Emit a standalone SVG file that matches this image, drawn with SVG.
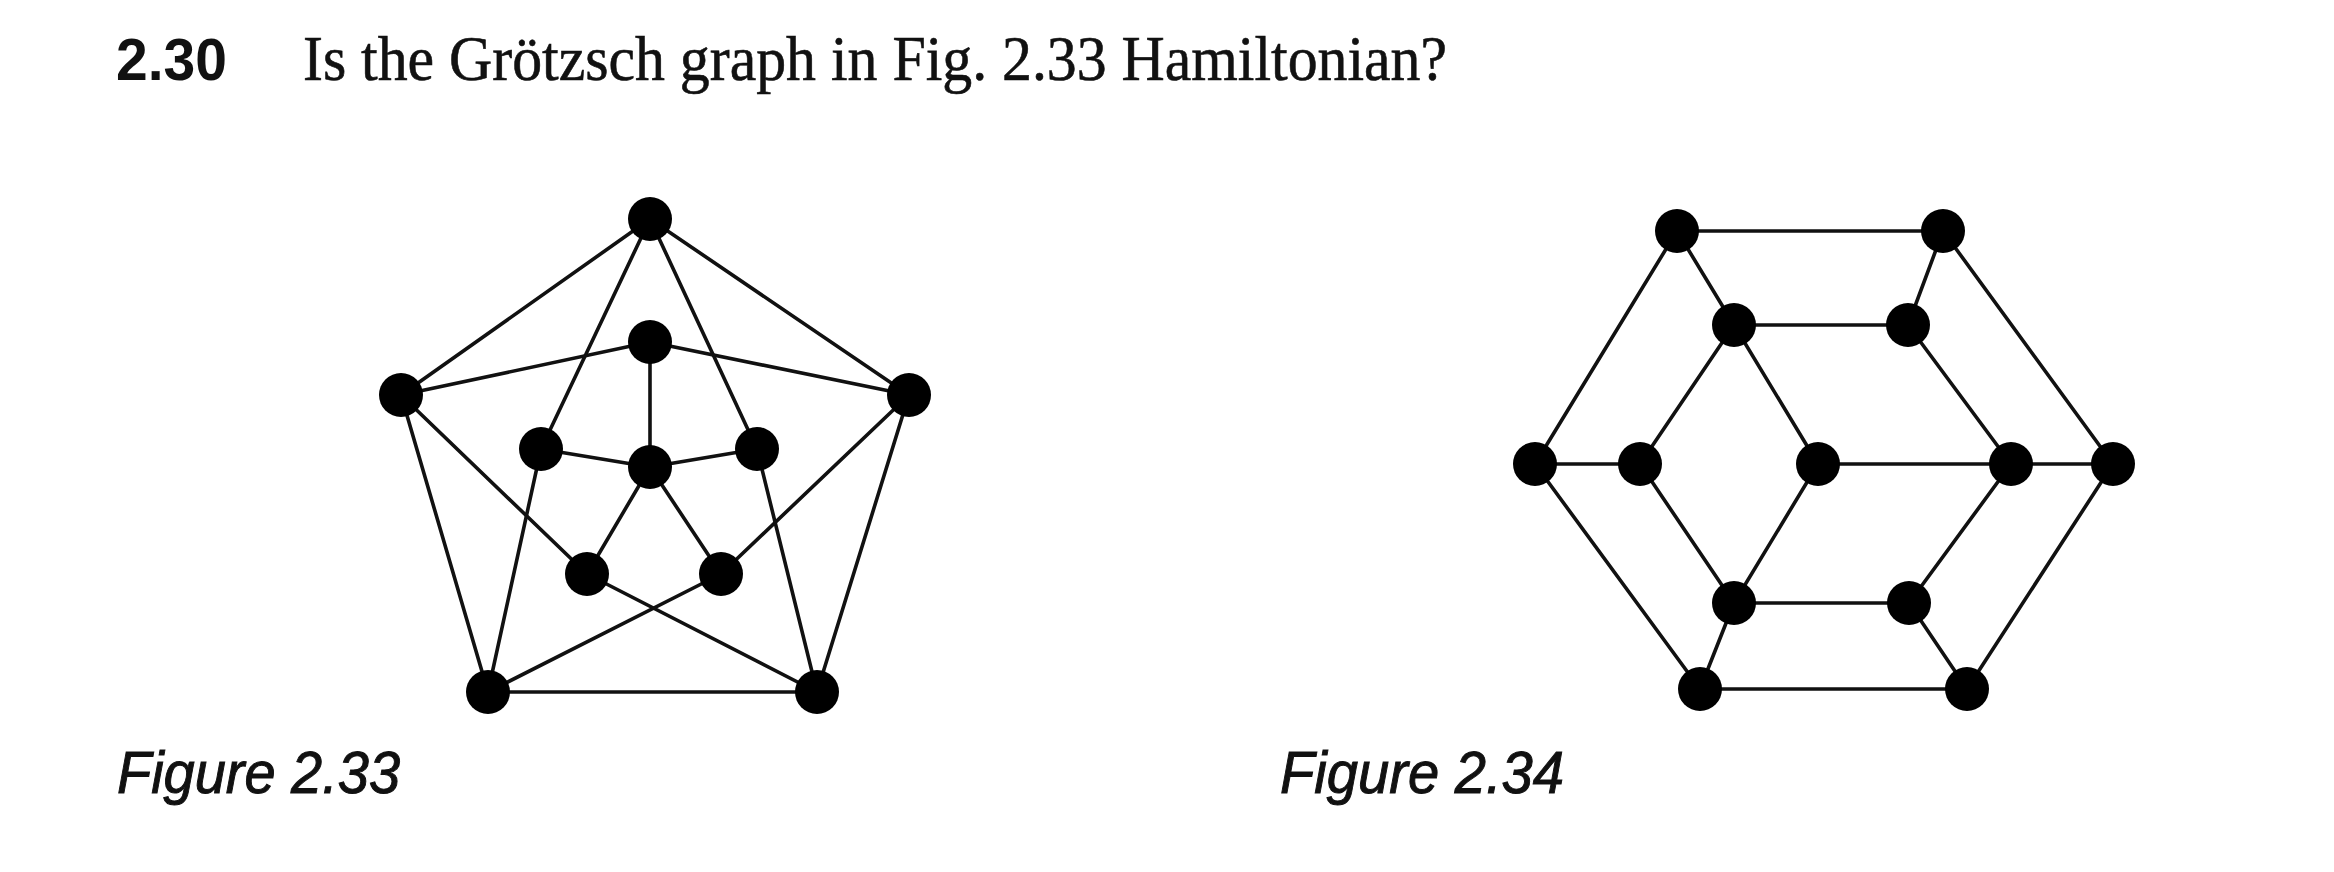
<svg xmlns="http://www.w3.org/2000/svg" width="2334" height="872" viewBox="0 0 2334 872">
<style>
.e{stroke:#111;stroke-width:3.6;fill:none;stroke-linecap:round}
.n{fill:#000}
.num{font-family:"Liberation Sans",Arial,sans-serif;font-weight:bold;font-size:60px;fill:#111}
.q{font-family:"Liberation Serif","Times New Roman",serif;font-size:64px;fill:#111;stroke:#111;stroke-width:0.6}
.cap{font-family:"Liberation Sans",Arial,sans-serif;font-style:italic;font-size:60px;fill:#111;stroke:#111;stroke-width:1}
</style>
<rect width="2334" height="872" fill="#fff"/>
<g id="title">
<text class="num" x="116" y="80" textLength="111" lengthAdjust="spacingAndGlyphs">2.30</text>
<text class="q" x="303" y="80" textLength="1144" lengthAdjust="spacingAndGlyphs">Is the Grötzsch graph in Fig. 2.33 Hamiltonian?</text>
</g>
<g id="fig233-edges" class="e">
<line x1="650" y1="219" x2="401" y2="395"/>
<line x1="650" y1="219" x2="909" y2="395"/>
<line x1="650" y1="219" x2="541" y2="449"/>
<line x1="650" y1="219" x2="757" y2="449"/>
<line x1="401" y1="395" x2="650" y2="342"/>
<line x1="909" y1="395" x2="650" y2="342"/>
<line x1="401" y1="395" x2="488" y2="692"/>
<line x1="909" y1="395" x2="817" y2="692"/>
<line x1="401" y1="395" x2="587" y2="574"/>
<line x1="909" y1="395" x2="721" y2="574"/>
<line x1="488" y1="692" x2="817" y2="692"/>
<line x1="488" y1="692" x2="541" y2="449"/>
<line x1="817" y1="692" x2="757" y2="449"/>
<line x1="488" y1="692" x2="721" y2="574"/>
<line x1="817" y1="692" x2="587" y2="574"/>
<line x1="650" y1="467" x2="650" y2="342"/>
<line x1="650" y1="467" x2="541" y2="449"/>
<line x1="650" y1="467" x2="757" y2="449"/>
<line x1="650" y1="467" x2="587" y2="574"/>
<line x1="650" y1="467" x2="721" y2="574"/>
</g>
<g id="fig233-nodes" class="n">
<circle id="g-t" cx="650" cy="219" r="22"/>
<circle id="g-it" cx="650" cy="342" r="22"/>
<circle id="g-l" cx="401" cy="395" r="22"/>
<circle id="g-r" cx="909" cy="395" r="22"/>
<circle id="g-il" cx="541" cy="449" r="22"/>
<circle id="g-c" cx="650" cy="467" r="22"/>
<circle id="g-ir" cx="757" cy="449" r="22"/>
<circle id="g-lil" cx="587" cy="574" r="22"/>
<circle id="g-lir" cx="721" cy="574" r="22"/>
<circle id="g-bl" cx="488" cy="692" r="22"/>
<circle id="g-br" cx="817" cy="692" r="22"/>
</g>
<g id="fig234-edges" class="e">
<line x1="1677" y1="231" x2="1943" y2="231"/>
<line x1="1677" y1="231" x2="1535" y2="464"/>
<line x1="1677" y1="231" x2="1734" y2="325"/>
<line x1="1943" y1="231" x2="1908" y2="325"/>
<line x1="1943" y1="231" x2="2113" y2="464"/>
<line x1="1734" y1="325" x2="1908" y2="325"/>
<line x1="1734" y1="325" x2="1640" y2="464"/>
<line x1="1734" y1="325" x2="1818" y2="464"/>
<line x1="1908" y1="325" x2="2011" y2="464"/>
<line x1="1535" y1="464" x2="1640" y2="464"/>
<line x1="1535" y1="464" x2="1700" y2="689"/>
<line x1="1640" y1="464" x2="1734" y2="603"/>
<line x1="1818" y1="464" x2="2011" y2="464"/>
<line x1="1818" y1="464" x2="1734" y2="603"/>
<line x1="2011" y1="464" x2="2113" y2="464"/>
<line x1="2011" y1="464" x2="1909" y2="603"/>
<line x1="2113" y1="464" x2="1967" y2="689"/>
<line x1="1734" y1="603" x2="1909" y2="603"/>
<line x1="1734" y1="603" x2="1700" y2="689"/>
<line x1="1909" y1="603" x2="1967" y2="689"/>
<line x1="1700" y1="689" x2="1967" y2="689"/>
</g>
<g id="fig234-nodes" class="n">
<circle id="h-tl" cx="1677" cy="231" r="22"/>
<circle id="h-tr" cx="1943" cy="231" r="22"/>
<circle id="h-uil" cx="1734" cy="325" r="22"/>
<circle id="h-uir" cx="1908" cy="325" r="22"/>
<circle id="h-fl" cx="1535" cy="464" r="22"/>
<circle id="h-li" cx="1640" cy="464" r="22"/>
<circle id="h-c" cx="1818" cy="464" r="22"/>
<circle id="h-ri" cx="2011" cy="464" r="22"/>
<circle id="h-fr" cx="2113" cy="464" r="22"/>
<circle id="h-lil" cx="1734" cy="603" r="22"/>
<circle id="h-lir" cx="1909" cy="603" r="22"/>
<circle id="h-bl" cx="1700" cy="689" r="22"/>
<circle id="h-br" cx="1967" cy="689" r="22"/>
</g>
<g id="captions">
<text class="cap" x="117" y="793" textLength="283" lengthAdjust="spacingAndGlyphs">Figure 2.33</text>
<text class="cap" x="1280" y="793" textLength="284" lengthAdjust="spacingAndGlyphs">Figure 2.34</text>
</g>
</svg>
